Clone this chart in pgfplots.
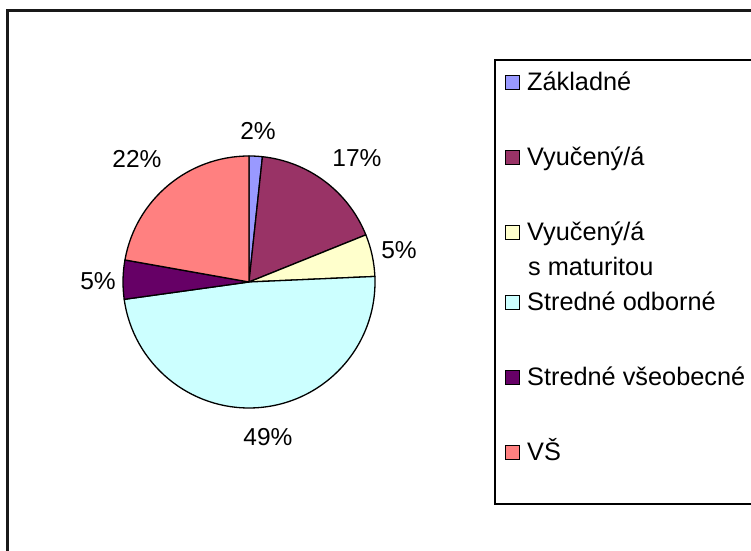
\documentclass[border=0pt]{standalone}
\usepackage{pgfplots}
\usepackage{pgfplotstable}
\pgfplotsset{compat=1.18}
\usepackage{fontspec}
\setmainfont{Liberation Sans}

\definecolor{pie0}{HTML}{9999FF}
\definecolor{pie1}{HTML}{993366}
\definecolor{pie2}{HTML}{FFFFCC}
\definecolor{pie3}{HTML}{CCFFFF}
\definecolor{pie4}{HTML}{660066}
\definecolor{pie5}{HTML}{FF8080}

% share (%) of each category
\pgfplotstableread{
value
1.7
17.2
5.4
48.5
5.0
22.2
}\piedata

\begin{document}
\begin{tikzpicture}[x=1bp,y=1bp]
\useasboundingbox (0,0) rectangle (751,551);
% cumulative starts / ends
\xdef\pieS{0}
\foreach \i in {0,...,5}{
  \pgfplotstablegetelem{\i}{value}\of\piedata
  \pgfmathsetmacro\s{\pieS}
  \pgfmathsetmacro\e{\pieS+\pgfplotsretval}
  \expandafter\xdef\csname pieStart\i\endcsname{\s}
  \expandafter\xdef\csname pieEnd\i\endcsname{\e}
  \xdef\pieS{\e}
}
\begin{axis}[
  at={(0,0)}, anchor=origin,
  x=1bp, y=1bp,
  xmin=0, xmax=751, ymin=0, ymax=551,
  hide axis,
  clip=false,
]
% pie wedges
\pgfplotsinvokeforeach{0,...,5}{
  \filldraw[fill=pie#1, draw=black, line width=1.3bp, line join=round]
    (axis cs:249,269) -- ++({90-3.6*\csname pieStart#1\endcsname}:126bp)
    arc[start angle={90-3.6*\csname pieStart#1\endcsname},
        end angle={90-3.6*\csname pieEnd#1\endcsname}, radius=126bp] -- cycle;
}
\end{axis}
\begin{scope}[font=\fontsize{24.5bp}{28bp}\selectfont]
% outer chart frame (extends beyond the visible area)
\draw[line width=2.5bp, black!90] (7.5,540.5) rectangle (780,-30);
% data labels
\node at (258,420) {2\%};
\node at (357,393) {17\%};
\node at (399,301) {5\%};
\node at (268,114) {49\%};
\node at (98,270) {5\%};
\node at (137,392) {22\%};
\end{scope}
\begin{scope}[font=\fontsize{25.3bp}{28bp}\selectfont]
% legend box
\draw[line width=1.3bp, black] (495,491) rectangle (800,47);
\foreach \yc/\lab [count=\kk from 0] in {83/{Základné}, 158/{Vyučený/á}, 233/{Vyučený/á}, 303/{Stredné odborné}, 378/{Stredné všeobecné}, 453/{VŠ}}{
  \filldraw[fill=pie\kk, draw=black, line width=1bp] (505,{551-\yc+7}) rectangle (519,{551-\yc-7});
  \node[anchor=base west, inner sep=0pt] at (527,{551-\yc-8}) {\lab};
}
\node[anchor=base west, inner sep=0pt] at (528,{551-268-8}) {s maturitou};
\end{scope}
\end{tikzpicture}
\end{document}
